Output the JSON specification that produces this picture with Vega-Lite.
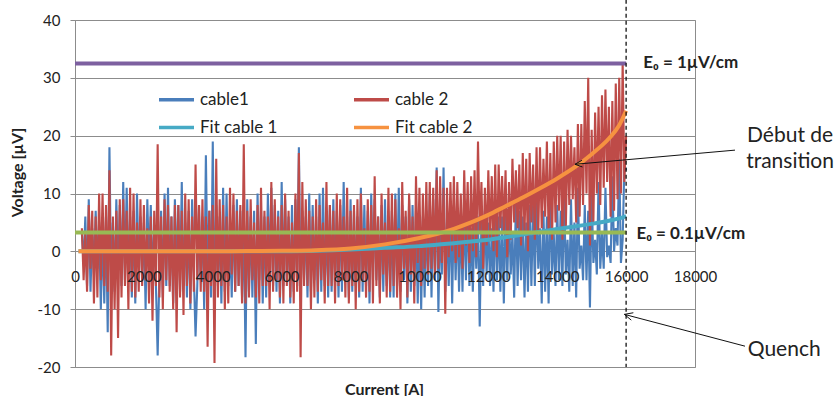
{
  "$schema": "https://vega.github.io/schema/vega-lite/v6.json",
  "width": 620,
  "height": 347,
  "autosize": {"type": "none"},
  "padding": {"left": 75, "top": 20, "right": 140, "bottom": 29},
  "background": "white",
  "config": {
    "font": "Lato",
    "view": {"stroke": "#8c8c8c", "strokeWidth": 1}
  },
  "datasets": {
    "noise": [
      {"I":200,"a":3,"b":4},{"I":250,"a":-2,"b":-5},{"I":300,"a":6,"b":3},{"I":350,"a":-6,"b":-7},{"I":400,"a":9,"b":8},
      {"I":450,"a":-7,"b":-3},{"I":500,"a":4,"b":7},{"I":550,"a":-4,"b":-9},{"I":600,"a":7,"b":6},{"I":650,"a":-3,"b":-8},
      {"I":700,"a":5,"b":10},{"I":750,"a":-10,"b":-5},{"I":800,"a":4,"b":10},{"I":850,"a":-9,"b":-6},{"I":900,"a":6,"b":8},
      {"I":950,"a":-14,"b":-7},{"I":1000,"a":18,"b":14},{"I":1050,"a":-6,"b":-18},{"I":1100,"a":5,"b":6},{"I":1150,"a":-7,"b":-10},
      {"I":1200,"a":9,"b":7},{"I":1250,"a":-4,"b":-15},{"I":1300,"a":8,"b":9},{"I":1350,"a":-6,"b":-8},{"I":1400,"a":12,"b":9},
      {"I":1450,"a":-5,"b":-6},{"I":1500,"a":11,"b":7},{"I":1550,"a":-4,"b":-10},{"I":1600,"a":6,"b":11},{"I":1650,"a":-8,"b":-7},
      {"I":1700,"a":7,"b":10},{"I":1750,"a":-9,"b":-8},{"I":1800,"a":10,"b":5},{"I":1850,"a":-3,"b":-7},{"I":1900,"a":6,"b":9},
      {"I":1950,"a":-5,"b":-6},{"I":2000,"a":5,"b":8},{"I":2050,"a":-10,"b":-5},{"I":2100,"a":9,"b":4},{"I":2150,"a":-3,"b":-9},
      {"I":2200,"a":8,"b":6},{"I":2250,"a":-5,"b":-12},{"I":2300,"a":4,"b":7},{"I":2350,"a":-6,"b":-6},{"I":2400,"a":-18,"b":18.5},
      {"I":2450,"a":-4,"b":-8},{"I":2500,"a":7,"b":6},{"I":2550,"a":-8,"b":-10},{"I":2600,"a":10,"b":9},{"I":2650,"a":-6,"b":-5},
      {"I":2700,"a":11,"b":8},{"I":2750,"a":-6,"b":-7},{"I":2800,"a":6,"b":6},{"I":2850,"a":-9,"b":-10},{"I":2900,"a":9,"b":8},
      {"I":2950,"a":-4,"b":-14},{"I":3000,"a":8,"b":8},{"I":3050,"a":-7,"b":-8},{"I":3100,"a":12,"b":7},{"I":3150,"a":-6,"b":-11},
      {"I":3200,"a":5,"b":10},{"I":3250,"a":-8,"b":-6},{"I":3300,"a":7,"b":9},{"I":3350,"a":-10,"b":-9},{"I":3400,"a":9,"b":6},
      {"I":3450,"a":-4,"b":-7},{"I":3500,"a":-14.7,"b":15},{"I":3550,"a":-6,"b":-5},{"I":3600,"a":8,"b":8},{"I":3650,"a":-5,"b":-7},
      {"I":3700,"a":6,"b":9},{"I":3750,"a":-10,"b":-7},{"I":3800,"a":16.6,"b":6},{"I":3850,"a":-5,"b":-16.5},{"I":3900,"a":7,"b":7},
      {"I":3950,"a":-8,"b":-6},{"I":4000,"a":19,"b":8},{"I":4050,"a":-9,"b":-19.3},{"I":4100,"a":8,"b":16},{"I":4150,"a":-6,"b":-8},
      {"I":4200,"a":6,"b":9},{"I":4250,"a":-9,"b":-6},{"I":4300,"a":11,"b":8},{"I":4350,"a":-7,"b":-10},{"I":4400,"a":10,"b":6},
      {"I":4450,"a":-6,"b":-9},{"I":4500,"a":5,"b":11},{"I":4550,"a":-8,"b":-4},{"I":4600,"a":8,"b":10},{"I":4650,"a":-7,"b":-7},
      {"I":4700,"a":9,"b":7},{"I":4750,"a":-6,"b":-6},{"I":4800,"a":7,"b":8},{"I":4850,"a":-8,"b":-9},{"I":4900,"a":6,"b":18.5},
      {"I":4950,"a":-18.3,"b":-9},{"I":5000,"a":9,"b":7},{"I":5050,"a":-7,"b":-8},{"I":5100,"a":6,"b":9},{"I":5150,"a":-8,"b":-5},
      {"I":5200,"a":7,"b":5},{"I":5250,"a":-16,"b":-8},{"I":5300,"a":10,"b":8},{"I":5350,"a":-5,"b":-9},{"I":5400,"a":7,"b":11},
      {"I":5450,"a":-9,"b":-6},{"I":5500,"a":6,"b":7},{"I":5550,"a":-8,"b":-6},{"I":5600,"a":10,"b":6},{"I":5650,"a":-5,"b":-10},
      {"I":5700,"a":11,"b":12},{"I":5750,"a":-6,"b":-7},{"I":5800,"a":8,"b":9},{"I":5850,"a":-7,"b":-5},{"I":5900,"a":7,"b":6},
      {"I":5950,"a":-9,"b":-8},{"I":6000,"a":12,"b":8},{"I":6050,"a":-6,"b":-9},{"I":6100,"a":9,"b":10},{"I":6150,"a":-5,"b":-6},
      {"I":6200,"a":6,"b":7},{"I":6250,"a":-9,"b":-8},{"I":6300,"a":8,"b":5},{"I":6350,"a":-7,"b":-9},{"I":6400,"a":9,"b":10},
      {"I":6450,"a":-6,"b":-7},{"I":6500,"a":18,"b":17},{"I":6550,"a":-8,"b":-18.3},{"I":6600,"a":7,"b":12},{"I":6650,"a":-5,"b":-6},
      {"I":6700,"a":6,"b":9},{"I":6750,"a":-8,"b":-6},{"I":6800,"a":10,"b":7},{"I":6850,"a":-7,"b":-10},{"I":6900,"a":8,"b":6},
      {"I":6950,"a":-5,"b":-8},{"I":7000,"a":6,"b":9},{"I":7050,"a":-9,"b":-7},{"I":7100,"a":10,"b":8},{"I":7150,"a":-7,"b":-5},
      {"I":7200,"a":11,"b":5},{"I":7250,"a":-6,"b":-9},{"I":7300,"a":5,"b":12},{"I":7350,"a":-8,"b":-6},{"I":7400,"a":8,"b":8},
      {"I":7450,"a":-7,"b":-6},{"I":7500,"a":9,"b":7},{"I":7550,"a":-6,"b":-9},{"I":7600,"a":7,"b":10},{"I":7650,"a":-8,"b":-6},
      {"I":7700,"a":8,"b":9},{"I":7750,"a":-7,"b":-5},{"I":7800,"a":12,"b":6},{"I":7850,"a":-5,"b":-8},{"I":7900,"a":6,"b":11},
      {"I":7950,"a":-8,"b":-9},{"I":8000,"a":9,"b":7},{"I":8050,"a":-7,"b":-6},{"I":8100,"a":7,"b":8},{"I":8150,"a":-6,"b":-10},
      {"I":8200,"a":6,"b":9},{"I":8250,"a":-8,"b":-7},{"I":8300,"a":11,"b":10},{"I":8350,"a":-7,"b":-5},{"I":8400,"a":8,"b":4},
      {"I":8450,"a":-6,"b":-8},{"I":8500,"a":7,"b":9},{"I":8550,"a":-9,"b":-7},{"I":8600,"a":10,"b":8},{"I":8650,"a":-5,"b":-9},
      {"I":8700,"a":9,"b":13},{"I":8750,"a":-5,"b":-6},{"I":8800,"a":6,"b":6},{"I":8850,"a":-8,"b":-9},{"I":8900,"a":8,"b":10},
      {"I":8950,"a":-7,"b":-4},{"I":9000,"a":9,"b":5},{"I":9050,"a":-6,"b":-8},{"I":9100,"a":6,"b":11},{"I":9150,"a":-8,"b":-7},
      {"I":9200,"a":7,"b":10},{"I":9250,"a":-8,"b":-6},{"I":9300,"a":10,"b":9},{"I":9350,"a":-6,"b":-8},{"I":9400,"a":11,"b":4},
      {"I":9450,"a":-7,"b":-10},{"I":9500,"a":8,"b":12},{"I":9550,"a":-5,"b":-3},{"I":9600,"a":6,"b":7},{"I":9650,"a":-9,"b":-8},
      {"I":9700,"a":9,"b":10},{"I":9750,"a":-7,"b":-4},{"I":9800,"a":8,"b":6},{"I":9850,"a":-6,"b":-9},{"I":9900,"a":7,"b":13},
      {"I":9950,"a":-9,"b":-2},{"I":10000,"a":6,"b":11},{"I":10050,"a":-10,"b":-6},{"I":10100,"a":6,"b":10},{"I":10150,"a":-8,"b":-3},
      {"I":10200,"a":7,"b":12},{"I":10250,"a":-6,"b":-4},{"I":10300,"a":10,"b":12},{"I":10350,"a":-8,"b":-3},{"I":10400,"a":9,"b":11},
      {"I":10450,"a":-5,"b":-4},{"I":10500,"a":14.5,"b":14},{"I":10550,"a":-10.5,"b":-3},{"I":10600,"a":6,"b":13},{"I":10650,"a":-4,"b":-2},
      {"I":10700,"a":14.5,"b":11},{"I":10750,"a":-7,"b":-10.8},{"I":10800,"a":5,"b":11},{"I":10850,"a":-6,"b":-1},{"I":10900,"a":7,"b":12},
      {"I":10950,"a":-9,"b":0},{"I":11000,"a":8,"b":13},{"I":11050,"a":-5,"b":-2},{"I":11100,"a":6,"b":12},{"I":11150,"a":-7,"b":-1},
      {"I":11200,"a":6,"b":10},{"I":11250,"a":-7,"b":-3},{"I":11300,"a":8,"b":14},{"I":11350,"a":-5,"b":1},{"I":11400,"a":9,"b":12},
      {"I":11450,"a":-6,"b":-2},{"I":11500,"a":4,"b":13},{"I":11550,"a":-7,"b":0},{"I":11600,"a":5,"b":14},{"I":11650,"a":-3,"b":-1},
      {"I":11700,"a":6,"b":19},{"I":11750,"a":-13,"b":3},{"I":11800,"a":6,"b":12},{"I":11850,"a":-6,"b":-3},{"I":11900,"a":7,"b":11},
      {"I":11950,"a":-4,"b":1},{"I":12000,"a":5,"b":14},{"I":12050,"a":-6,"b":2},{"I":12100,"a":4,"b":13},{"I":12150,"a":-7,"b":0},
      {"I":12200,"a":8,"b":15},{"I":12250,"a":-5,"b":-1},{"I":12300,"a":6,"b":15},{"I":12350,"a":-7,"b":4},{"I":12400,"a":6,"b":13},
      {"I":12450,"a":-9,"b":3},{"I":12500,"a":8,"b":14},{"I":12550,"a":-5,"b":-1},{"I":12600,"a":7,"b":12},{"I":12650,"a":-4,"b":2},
      {"I":12700,"a":3,"b":16},{"I":12750,"a":-8,"b":5},{"I":12800,"a":9,"b":14},{"I":12850,"a":-6,"b":4},{"I":12900,"a":7,"b":15},
      {"I":12950,"a":-5,"b":1},{"I":13000,"a":6,"b":17},{"I":13050,"a":-8,"b":3},{"I":13100,"a":5,"b":16},{"I":13150,"a":-7,"b":0},
      {"I":13200,"a":8,"b":17},{"I":13250,"a":-6,"b":5},{"I":13300,"a":8,"b":15},{"I":13350,"a":-6,"b":2},{"I":13400,"a":10,"b":18},
      {"I":13450,"a":-3,"b":3},{"I":13500,"a":4,"b":18},{"I":13550,"a":-9,"b":4},{"I":13600,"a":7,"b":16},{"I":13650,"a":-7,"b":6},
      {"I":13700,"a":6,"b":19},{"I":13750,"a":-9,"b":3},{"I":13800,"a":11,"b":17},{"I":13850,"a":-4,"b":2},{"I":13900,"a":3,"b":19},
      {"I":13950,"a":-6,"b":5},{"I":14000,"a":8,"b":20},{"I":14050,"a":-5,"b":7},{"I":14100,"a":7,"b":20},{"I":14150,"a":-6,"b":2},
      {"I":14200,"a":10,"b":19},{"I":14250,"a":-4,"b":4},{"I":14300,"a":2,"b":21},{"I":14350,"a":-7,"b":8},{"I":14400,"a":9,"b":20},
      {"I":14450,"a":-6,"b":9},{"I":14500,"a":5,"b":18},{"I":14550,"a":-8,"b":5},{"I":14600,"a":11,"b":22},{"I":14650,"a":-3,"b":6},
      {"I":14700,"a":1,"b":22},{"I":14750,"a":-5,"b":8},{"I":14800,"a":8,"b":26},{"I":14850,"a":-5,"b":10},{"I":14900,"a":7,"b":30},
      {"I":14950,"a":-9.7,"b":1},{"I":15000,"a":10,"b":21},{"I":15050,"a":-2,"b":5},{"I":15100,"a":2,"b":24},{"I":15150,"a":-4,"b":10},
      {"I":15200,"a":12,"b":25},{"I":15250,"a":-3,"b":8},{"I":15300,"a":3,"b":27},{"I":15350,"a":-3,"b":11},{"I":15400,"a":11,"b":28},
      {"I":15450,"a":-1,"b":12},{"I":15500,"a":1,"b":25},{"I":15550,"a":-2,"b":6},{"I":15600,"a":13,"b":26},{"I":15650,"a":0,"b":7},
      {"I":15700,"a":4,"b":29},{"I":15750,"a":1,"b":9},{"I":15800,"a":16,"b":30},{"I":15850,"a":-2,"b":10},{"I":15900,"a":2,"b":32.7},
      {"I":15950,"a":15,"b":12},{"I":16000,"a":14,"b":20}
    ],
    "fit": [
      {"I":100,"f1":0,"f2":0},{"I":2000,"f1":0,"f2":0},{"I":4000,"f1":0,"f2":0.02},{"I":5000,"f1":0,"f2":0.05},
      {"I":6000,"f1":0.02,"f2":0.1},{"I":7000,"f1":0.1,"f2":0.2},{"I":8000,"f1":0.3,"f2":0.5},{"I":9000,"f1":0.6,"f2":1.2},
      {"I":10000,"f1":0.9,"f2":2.3},{"I":10500,"f1":1.15,"f2":3.0},{"I":11000,"f1":1.4,"f2":3.9},{"I":11500,"f1":1.7,"f2":5.0},
      {"I":12000,"f1":2.0,"f2":6.3},{"I":12500,"f1":2.45,"f2":7.8},{"I":13000,"f1":2.9,"f2":9.3},{"I":13500,"f1":3.4,"f2":10.9},
      {"I":14000,"f1":3.85,"f2":12.6},{"I":14500,"f1":4.3,"f2":14.5},{"I":15000,"f1":4.75,"f2":16.8},{"I":15500,"f1":5.3,"f2":19.5},
      {"I":15800,"f1":5.7,"f2":21.8},{"I":16000,"f1":6.1,"f2":24.3}
    ],
    "e0": [
      {"I":0,"lo":3.25,"hi":32.5},{"I":16000,"lo":3.25,"hi":32.5}
    ],
    "quench": [{"I":16000,"top":43.5,"bottom":-20}],
    "arrows": [
      {"x":19161,"y":17.5,"x2":14516,"y2":15.05},
      {"x":14516,"y":15.05,"x2":14716,"y2":15.74},
      {"x":14516,"y":15.05,"x2":14734,"y2":14.58},
      {"x":19452,"y":-16.4,"x2":15950,"y2":-10.9},
      {"x":15950,"y":-10.9,"x2":16210,"y2":-10.62},
      {"x":15950,"y":-10.9,"x2":16150,"y2":-11.9}
    ],
    "e0notes": [
      {"I":16500,"v":32.5,"label":"E₀ = 1µV/cm"},
      {"I":16300,"v":3.0,"label":"E₀ = 0.1µV/cm"}
    ],
    "notes": [
      {"I":20760,"v":19.9,"label":"Début de\ntransition"},
      {"I":20590,"v":-17,"label":"Quench"}
    ]
  },
  "layer": [
    {
      "data": {"name": "noise"},
      "mark": {"type": "line", "strokeWidth": 2.1},
      "encoding": {
        "x": {
          "field": "I", "type": "quantitative", "title": "Current [A]",
          "scale": {"domain": [0, 18000], "nice": false, "zero": false},
          "axis": {
            "orient": "bottom", "offset": -115, "zindex": 1, "values": [0,2000,4000,6000,8000,10000,12000,14000,16000,18000],
            "grid": false, "ticks": false, "domain": false, "format": "d",
            "labelFontSize": 15, "labelColor": "#222", "labelPadding": 17, "labelFlush": false, "labelOverlap": false,
            "titleFontSize": 16, "titleFontWeight": "bold", "titleColor": "#222",
            "titleX": 309, "titleY": 137, "titleBaseline": "middle"
          }
        },
        "y": {
          "field": "a", "type": "quantitative", "title": "Voltage [µV]",
          "scale": {"domain": [-20, 40], "nice": false, "zero": false},
          "axis": {
            "values": [-20,-10,0,10,20,30,40], "grid": true, "gridColor": "#8c8c8c", "gridWidth": 1,
            "domainColor": "#8c8c8c", "tickColor": "#8c8c8c", "tickSize": 5,
            "labelExpr": "replace(datum.label, '−', '-')",
            "labelFontSize": 15, "labelColor": "#222", "labelPadding": 10, "labelFlush": false, "labelOverlap": false,
            "titleFontSize": 16, "titleFontWeight": "bold", "titleColor": "#222",
            "titleX": -58, "titleY": 152, "titleAngle": -90, "titleBaseline": "middle", "titleAlign": "center"
          }
        },
        "color": {
          "datum": "cable1",
          "scale": {
            "domain": ["cable1", "Fit cable 1", "cable 2", "Fit cable 2"],
            "range": ["#4A7EBB", "#46AAC5", "#BE4B48", "#F69240"]
          },
          "legend": {
            "title": null, "orient": "none", "legendX": 82, "legendY": 60, "columns": 2,
            "columnPadding": 69, "rowPadding": -12, "padding": 0,
            "symbolType": "stroke", "symbolSize": 1225, "symbolStrokeWidth": 3.5,
            "labelFontSize": 17, "labelColor": "#222", "labelOffset": 4, "labelFont": "Lato"
          }
        }
      }
    },
    {
      "data": {"name": "noise"},
      "mark": {"type": "line", "strokeWidth": 2.1},
      "encoding": {
        "x": {"field": "I", "type": "quantitative"},
        "y": {"field": "b", "type": "quantitative"},
        "color": {"datum": "cable 2"}
      }
    },
    {
      "data": {"name": "fit"},
      "mark": {"type": "line", "strokeWidth": 4, "interpolate": "monotone"},
      "encoding": {
        "x": {"field": "I", "type": "quantitative"},
        "y": {"field": "f1", "type": "quantitative"},
        "color": {"datum": "Fit cable 1"}
      }
    },
    {
      "data": {"name": "fit"},
      "mark": {"type": "line", "strokeWidth": 4, "interpolate": "monotone"},
      "encoding": {
        "x": {"field": "I", "type": "quantitative"},
        "y": {"field": "f2", "type": "quantitative"},
        "color": {"datum": "Fit cable 2"}
      }
    },
    {
      "data": {"name": "e0"},
      "mark": {"type": "line", "strokeWidth": 4, "color": "#98B954"},
      "encoding": {
        "x": {"field": "I", "type": "quantitative"},
        "y": {"field": "lo", "type": "quantitative"}
      }
    },
    {
      "data": {"name": "e0"},
      "mark": {"type": "line", "strokeWidth": 4, "color": "#7D60A0"},
      "encoding": {
        "x": {"field": "I", "type": "quantitative"},
        "y": {"field": "hi", "type": "quantitative"}
      }
    },
    {
      "data": {"name": "quench"},
      "mark": {"type": "rule", "color": "#111", "strokeWidth": 1.3, "strokeDash": [4, 3]},
      "encoding": {
        "x": {"field": "I", "type": "quantitative"},
        "y": {"field": "top", "type": "quantitative"},
        "y2": {"field": "bottom"}
      }
    },
    {
      "data": {"name": "arrows"},
      "mark": {"type": "rule", "color": "#111", "strokeWidth": 1},
      "encoding": {
        "x": {"field": "x", "type": "quantitative"},
        "y": {"field": "y", "type": "quantitative"},
        "x2": {"field": "x2"},
        "y2": {"field": "y2"}
      }
    },
    {
      "data": {"name": "e0notes"},
      "mark": {"type": "text", "align": "left", "baseline": "middle", "fontSize": 17, "fontWeight": "bold", "color": "#222", "font": "Lato"},
      "encoding": {
        "x": {"field": "I", "type": "quantitative"},
        "y": {"field": "v", "type": "quantitative"},
        "text": {"field": "label"}
      }
    },
    {
      "data": {"name": "notes"},
      "mark": {"type": "text", "align": "center", "baseline": "middle", "fontSize": 21, "color": "#222", "font": "Lato", "lineBreak": "\n", "lineHeight": 26},
      "encoding": {
        "x": {"field": "I", "type": "quantitative"},
        "y": {"field": "v", "type": "quantitative"},
        "text": {"field": "label"}
      }
    }
  ]
}
